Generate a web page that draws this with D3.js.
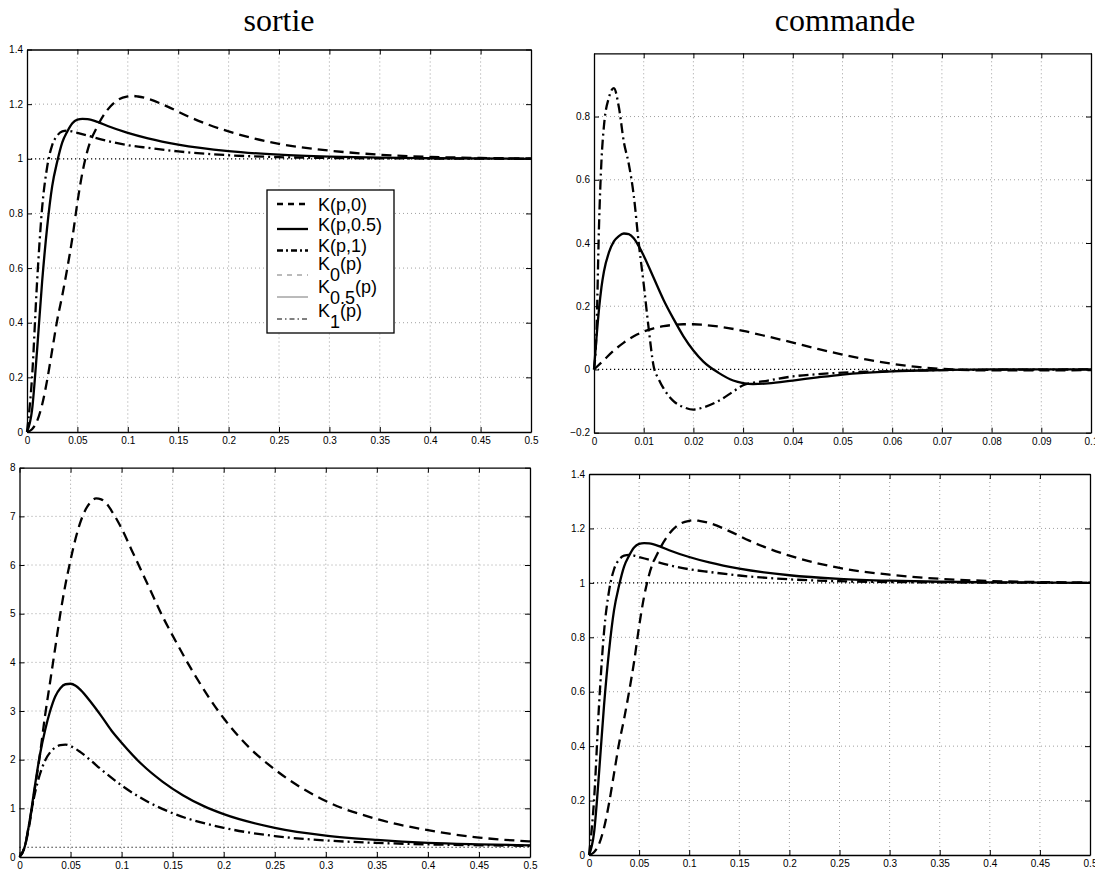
<!DOCTYPE html>
<html><head><meta charset="utf-8">
<script src="https://cdn.jsdelivr.net/npm/d3@7"></script>
<style>body{margin:0;background:#fff} svg{display:block}</style>
</head><body><svg id="c" width="1095" height="873"></svg>
<script>
// ---------- data ----------
const titles = ["sortie", "commande"];
const legendLabels = ["K(p,0)", "K(p,0.5)", "K(p,1)", "K_0(p)", "K_0.5(p)", "K_1(p)"];

const xTicksLong = [0, 0.05, 0.1, 0.15, 0.2, 0.25, 0.3, 0.35, 0.4, 0.45, 0.5];
const xTicksShort = [0, 0.01, 0.02, 0.03, 0.04, 0.05, 0.06, 0.07, 0.08, 0.09, 0.1];
const yTicksStep = [0, 0.2, 0.4, 0.6, 0.8, 1, 1.2, 1.4];
const yTicksCmd = [-0.2, 0, 0.2, 0.4, 0.6, 0.8];
const yTicksBig = [0, 1, 2, 3, 4, 5, 6, 7, 8];

// step responses (sortie 1 / commande 2)
const stepK0_t = [0, 0.005, 0.01, 0.015, 0.02, 0.025, 0.03, 0.035, 0.04, 0.045, 0.05, 0.055, 0.06, 0.07, 0.08, 0.09, 0.1, 0.105, 0.11, 0.12, 0.14, 0.16, 0.18, 0.2, 0.25, 0.3, 0.35, 0.4, 0.45, 0.5];
const stepK0_v = [0, 0.01, 0.04, 0.1, 0.19, 0.3, 0.41, 0.5, 0.6, 0.71, 0.84, 0.95, 1.03, 1.12, 1.18, 1.215, 1.228, 1.23, 1.228, 1.22, 1.19, 1.155, 1.125, 1.1, 1.055, 1.03, 1.015, 1.007, 1.003, 1.001];
const stepK05_t = [0, 0.005, 0.01, 0.015, 0.02, 0.025, 0.03, 0.035, 0.04, 0.045, 0.05, 0.055, 0.06, 0.07, 0.08, 0.1, 0.12, 0.15, 0.2, 0.25, 0.3, 0.35, 0.4, 0.5];
const stepK05_v = [0, 0.08, 0.3, 0.55, 0.75, 0.9, 0.99, 1.06, 1.1, 1.13, 1.143, 1.146, 1.145, 1.135, 1.12, 1.095, 1.075, 1.052, 1.028, 1.015, 1.008, 1.004, 1.002, 1.0];
const stepK1_t = [0, 0.005, 0.01, 0.015, 0.02, 0.025, 0.03, 0.035, 0.04, 0.045, 0.05, 0.06, 0.08, 0.1, 0.12, 0.15, 0.2, 0.25, 0.3, 0.4, 0.5];
const stepK1_v = [0, 0.2, 0.55, 0.82, 0.97, 1.05, 1.085, 1.1, 1.103, 1.1, 1.095, 1.085, 1.065, 1.05, 1.04, 1.027, 1.013, 1.006, 1.003, 1.001, 1.0];

// control signals (commande 1)
const cmdK0_t = [0, 0.002, 0.004, 0.006, 0.008, 0.01, 0.012, 0.014, 0.016, 0.018, 0.02, 0.022, 0.025, 0.03, 0.035, 0.04, 0.045, 0.05, 0.055, 0.06, 0.065, 0.07, 0.08, 0.09, 0.1];
const cmdK0_v = [0, 0.03, 0.06, 0.085, 0.105, 0.12, 0.13, 0.137, 0.141, 0.143, 0.143, 0.141, 0.136, 0.122, 0.104, 0.085, 0.065, 0.047, 0.031, 0.018, 0.008, 0.002, -0.003, -0.003, -0.002];
const cmdK05_t = [0, 0.0005, 0.001, 0.0015, 0.002, 0.003, 0.004, 0.005, 0.006, 0.007, 0.008, 0.009, 0.01, 0.012, 0.014, 0.016, 0.018, 0.02, 0.022, 0.025, 0.028, 0.03, 0.032, 0.035, 0.04, 0.045, 0.05, 0.06, 0.07, 0.08, 0.1];
const cmdK05_v = [0, 0.1, 0.19, 0.26, 0.31, 0.37, 0.405, 0.422, 0.43, 0.428, 0.415, 0.39, 0.36, 0.29, 0.22, 0.16, 0.105, 0.06, 0.025, -0.01, -0.035, -0.043, -0.046, -0.044, -0.035, -0.025, -0.016, -0.006, -0.002, 0, 0];
const cmdK1_t = [0, 0.0005, 0.001, 0.0015, 0.002, 0.003, 0.004, 0.005, 0.006, 0.007, 0.008, 0.009, 0.01, 0.011, 0.012, 0.013, 0.014, 0.016, 0.018, 0.02, 0.022, 0.025, 0.028, 0.03, 0.035, 0.04, 0.045, 0.05, 0.06, 0.07, 0.08, 0.1];
const cmdK1_v = [0, 0.12, 0.45, 0.66, 0.77, 0.86, 0.89, 0.83, 0.72, 0.65, 0.55, 0.4, 0.27, 0.13, 0.01, -0.03, -0.06, -0.1, -0.119, -0.127, -0.12, -0.1, -0.07, -0.05, -0.035, -0.022, -0.015, -0.01, -0.005, -0.002, -0.001, 0];

// outputs (sortie 2)
const outK0_t = [0, 0.005, 0.01, 0.015, 0.02, 0.025, 0.03, 0.035, 0.04, 0.045, 0.05, 0.055, 0.06, 0.065, 0.07, 0.075, 0.08, 0.085, 0.09, 0.1, 0.11, 0.12, 0.13, 0.14, 0.15, 0.17, 0.2, 0.225, 0.25, 0.3, 0.35, 0.4, 0.45, 0.5];
const outK0_v = [0, 0.2, 0.7, 1.4, 2.1, 2.9, 3.6, 4.3, 5.0, 5.6, 6.1, 6.55, 6.9, 7.15, 7.3, 7.37, 7.35, 7.27, 7.12, 6.75, 6.3, 5.85, 5.4, 4.95, 4.55, 3.8, 2.85, 2.25, 1.8, 1.15, 0.78, 0.55, 0.4, 0.32];
const outK05_t = [0, 0.005, 0.01, 0.015, 0.02, 0.025, 0.03, 0.035, 0.04, 0.045, 0.05, 0.055, 0.06, 0.07, 0.08, 0.09, 0.1, 0.12, 0.14, 0.16, 0.18, 0.2, 0.25, 0.3, 0.35, 0.4, 0.45, 0.5];
const outK05_v = [0, 0.2, 0.75, 1.45, 2.1, 2.6, 3.0, 3.3, 3.47, 3.55, 3.56, 3.52, 3.43, 3.18, 2.9, 2.6, 2.35, 1.9, 1.55, 1.27, 1.05, 0.88, 0.6, 0.44, 0.35, 0.29, 0.26, 0.24];
const outK1_t = [0, 0.005, 0.01, 0.015, 0.02, 0.025, 0.03, 0.035, 0.04, 0.045, 0.05, 0.06, 0.07, 0.08, 0.1, 0.12, 0.15, 0.2, 0.25, 0.3, 0.35, 0.4, 0.5];
const outK1_v = [0, 0.2, 0.75, 1.3, 1.7, 1.98, 2.15, 2.25, 2.3, 2.31, 2.28, 2.15, 1.98, 1.8, 1.47, 1.2, 0.9, 0.6, 0.43, 0.34, 0.29, 0.26, 0.23];

const refLevels = [1, 0, 0.2, 1];

// ---------- drawing ----------
const svg = d3.select("#c");
const DASH = "10,6", DASHDOT = "10,4,2,4";
const zip = (t, v) => t.map((d, i) => [d, v[i]]);
const fmt = d => (d < 0 ? "\u2212" : "") + String(Math.abs(d));

const panels = [
  {box: [27, 49.5, 531, 432], xd: [0, 0.5], yd: [0, 1.4], xt: xTicksLong, yt: yTicksStep, ref: refLevels[0],
   series: [[stepK0_t, stepK0_v, DASH], [stepK05_t, stepK05_v, null], [stepK1_t, stepK1_v, DASHDOT]], legend: true},
  {box: [594, 53.3, 1091, 432.7], xd: [0, 0.1], yd: [-0.2, 1], xt: xTicksShort, yt: yTicksCmd, ref: refLevels[1],
   series: [[cmdK0_t, cmdK0_v, DASH], [cmdK05_t, cmdK05_v, null], [cmdK1_t, cmdK1_v, DASHDOT]]},
  {box: [19.5, 467.7, 530, 857], xd: [0, 0.5], yd: [0, 8], xt: xTicksLong, yt: yTicksBig, ref: refLevels[2],
   series: [[outK0_t, outK0_v, DASH], [outK05_t, outK05_v, null], [outK1_t, outK1_v, DASHDOT]]},
  {box: [589, 474, 1090, 855], xd: [0, 0.5], yd: [0, 1.4], xt: xTicksLong, yt: yTicksStep, ref: refLevels[3],
   series: [[stepK0_t, stepK0_v, DASH], [stepK05_t, stepK05_v, null], [stepK1_t, stepK1_v, DASHDOT]]}
];

panels.forEach(p => {
  const [L, T, R, B] = p.box;
  const x = d3.scaleLinear().domain(p.xd).range([L, R]);
  const y = d3.scaleLinear().domain(p.yd).range([B, T]);
  const g = svg.append("g");

  // grid
  g.selectAll(".gx").data(p.xt.filter(v => v > p.xd[0] && v < p.xd[1])).join("line")
    .attr("x1", d => x(d)).attr("x2", d => x(d)).attr("y1", T).attr("y2", B)
    .attr("stroke", "#888").attr("stroke-width", 0.8).attr("stroke-dasharray", "1,3");
  g.selectAll(".gy").data(p.yt.filter(v => v > p.yd[0] && v < p.yd[1] && v !== p.ref)).join("line")
    .attr("y1", d => y(d)).attr("y2", d => y(d)).attr("x1", L).attr("x2", R)
    .attr("stroke", "#888").attr("stroke-width", 0.8).attr("stroke-dasharray", "1,3");

  // reference line
  g.append("line").attr("x1", L).attr("x2", R).attr("y1", y(p.ref)).attr("y2", y(p.ref))
    .attr("stroke", "#000").attr("stroke-width", 1.2).attr("stroke-dasharray", "1.2,2.8");

  // curves
  const line = d3.line().x(d => x(d[0])).y(d => y(d[1])).curve(d3.curveMonotoneX);
  p.series.forEach(s => {
    g.append("path").attr("d", line(zip(s[0], s[1]))).attr("fill", "none")
      .attr("stroke", "#000").attr("stroke-width", 2.3)
      .attr("stroke-dasharray", s[2]);
  });

  // axes
  const axB = d3.axisBottom(x).tickValues(p.xt).tickFormat(fmt).tickSizeInner(-5).tickSizeOuter(0).tickPadding(5);
  const axT = d3.axisTop(x).tickValues(p.xt).tickFormat("").tickSizeInner(-5).tickSizeOuter(0);
  const axL = d3.axisLeft(y).tickValues(p.yt).tickFormat(fmt).tickSizeInner(-5).tickSizeOuter(0).tickPadding(4);
  const axR = d3.axisRight(y).tickValues(p.yt).tickFormat("").tickSizeInner(-5).tickSizeOuter(0);
  [[axB, `translate(0,${B})`], [axT, `translate(0,${T})`], [axL, `translate(${L},0)`], [axR, `translate(${R},0)`]]
    .forEach(([a, tr]) => {
      const ag = g.append("g").attr("transform", tr).call(a);
      ag.selectAll("text").attr("font-family", "Liberation Sans, Arial, sans-serif").attr("font-size", 10).attr("fill", "#000");
      ag.select(".domain").attr("stroke", "#000").attr("stroke-width", 1.3);
      ag.selectAll(".tick line").attr("stroke", "#000").attr("stroke-width", 1);
    });

  if (p.legend) {
    const lx = 267, ly = 190, lw = 127, lh = 143;
    const lg = svg.append("g");
    lg.append("rect").attr("x", lx).attr("y", ly).attr("width", lw).attr("height", lh)
      .attr("fill", "#fff").attr("stroke", "#000").attr("stroke-width", 1.3);
    const rowY = [204, 229, 250.5, 275, 297, 319];
    const baseY = [210.5, 230.5, 252, 270, 293, 317];
    const styles = [
      {w: 2.3, c: "#000", d: "6,5"}, {w: 2.3, c: "#000", d: null}, {w: 2.3, c: "#000", d: "6,3,2,3"},
      {w: 1, c: "#777", d: "5,5"}, {w: 1, c: "#777", d: null}, {w: 1, c: "#000", d: "5,3,1.5,3"}
    ];
    legendLabels.forEach((lab, i) => {
      lg.append("line").attr("x1", 277).attr("x2", 308).attr("y1", rowY[i]).attr("y2", rowY[i])
        .attr("stroke", styles[i].c).attr("stroke-width", styles[i].w).attr("stroke-dasharray", styles[i].d);
      const parts = lab.split("_");
      const t = lg.append("text").attr("x", 318).attr("y", baseY[i])
        .attr("font-family", "Liberation Sans, Arial, sans-serif")
        .attr("font-size", 18).attr("fill", "#000");
      if (parts.length === 1) {
        t.text(lab);
      } else {
        const m = parts[1].match(/^([0-9.]+)(.*)$/);
        t.append("tspan").text(parts[0]);
        t.append("tspan").attr("dy", 11).text(m[1]);
        t.append("tspan").attr("dy", -11).text(m[2]);
      }
    });
  }
});

// titles
const titleX = [279, 845];
titles.forEach((tt, i) => {
  svg.append("text").attr("x", titleX[i]).attr("y", 31).attr("text-anchor", "middle")
    .attr("font-family", "Liberation Serif, serif").attr("font-size", 32).attr("fill", "#000").text(tt);
});
</script>
</body></html>
